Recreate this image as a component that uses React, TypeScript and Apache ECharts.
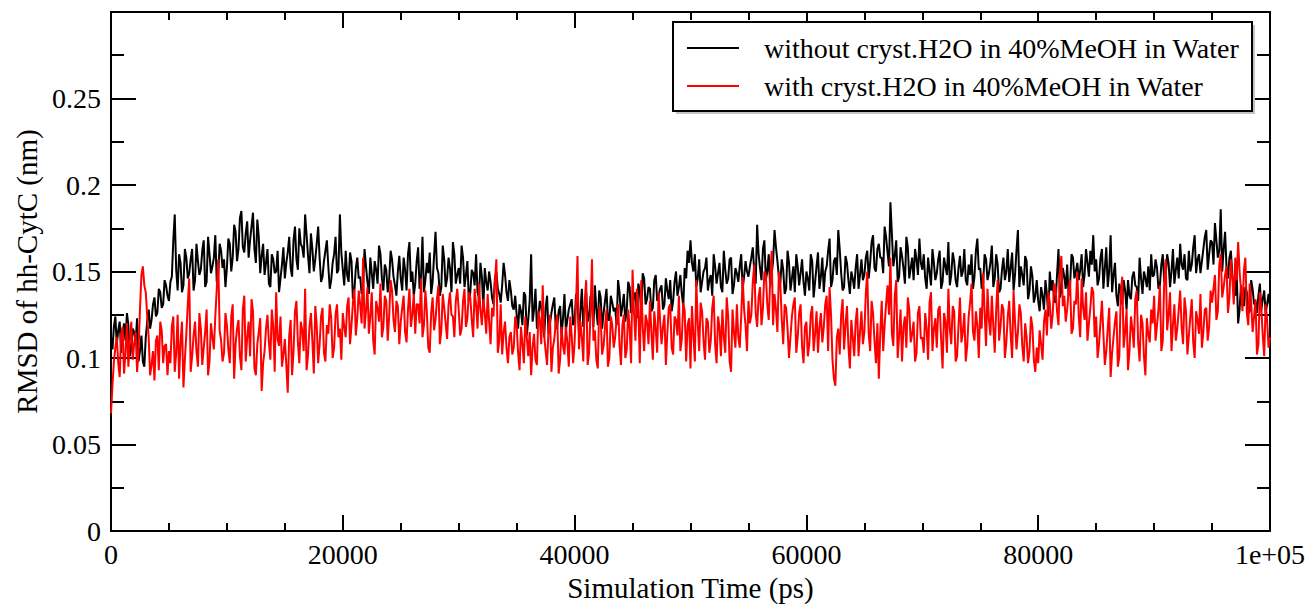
import React, { useEffect, useRef } from "react";
import * as echarts from "echarts";

// Sampling of the read-off values (ps): base samples every 250 ps,
// plus in-between samples at +125 ps
const TIME_STEP_PS = 250;
const HALF_STEP_PS = 125;
const X_MIN = 0;
const X_MAX = 100000;
const Y_MIN = 0;
const Y_MAX = 0.3;

const seriesNames = [
  "without cryst.H2O in 40%MeOH in Water",
  "with cryst.H2O in 40%MeOH in Water",
];

// RMSD values in thousandths of nm, at 0, 250, 500 ... ps
const withoutCrystH2O = [
  112,118,108,121,114,110,119,106,115,123,104,98,112,128,122,135,126,138,131,142,
  133,147,183,139,155,142,158,149,163,145,156,151,168,144,160,153,171,148,162,157,
  152,166,158,173,163,185,161,179,168,184,155,170,159,148,163,141,157,150,138,154,
  146,161,152,168,157,175,164,183,159,172,150,166,158,147,162,153,145,160,149,183,
  151,162,144,156,139,158,147,141,153,137,149,156,143,160,139,151,145,157,142,150,
  146,158,139,167,150,143,164,147,138,155,161,144,173,149,141,157,146,152,167,143,
  152,165,141,156,138,149,160,135,147,152,139,144,131,150,137,142,148,133,139,128,
  125,131,119,136,122,160,128,117,133,121,129,114,126,135,118,130,123,116,128,134,
  121,133,127,118,138,124,131,142,119,135,126,140,122,132,129,145,124,137,128,141,
  130,138,143,126,146,134,140,129,148,136,142,131,139,145,133,150,141,137,152,162,
  168,150,141,157,144,152,139,148,160,143,155,138,151,146,158,142,149,153,140,156,
  147,158,150,177,152,163,145,160,148,174,156,143,151,140,155,146,138,153,149,144,
  150,139,156,144,161,147,138,153,169,145,158,174,149,141,155,137,146,152,140,157,
  148,162,155,171,150,166,158,176,161,190,153,168,147,159,143,164,152,145,157,169,
  151,146,158,142,155,149,162,144,153,167,148,156,141,159,150,145,154,160,147,169,
  152,143,157,149,165,146,154,140,158,150,144,161,148,174,153,142,156,139,147,136,
  133,141,128,137,150,145,132,163,139,147,154,142,158,150,145,160,148,155,162,171,
  157,146,163,152,141,171,148,136,143,131,139,145,134,150,141,158,137,146,153,160,
  148,152,142,160,147,155,150,143,158,166,151,146,162,154,171,157,149,163,174,160,
  167,178,158,186,163,152,158,148,136,120,142,130,138,127,140,133,136,128,139,131,
  130,
];
// values at 125, 375, 625 ... ps
const withoutCrystH2OMid = [
  105,124,116,103,120,126,101,117,109,98,113,95,121,117,131,124,140,129,145,136,
  144,168,151,160,138,163,146,157,139,166,148,162,141,170,149,158,144,166,152,141,
  169,150,177,156,181,164,172,158,176,163,180,149,166,155,143,160,149,162,146,164,
  155,170,147,176,151,166,158,171,149,163,157,176,144,156,168,140,155,170,151,161,
  142,148,161,134,152,146,137,163,144,158,140,151,165,146,154,138,162,147,136,159,
  139,151,160,144,136,156,140,170,145,149,137,159,152,136,165,141,158,138,160,148,
  143,158,148,133,151,142,138,155,129,144,150,135,146,140,132,155,138,145,130,136,
  117,127,138,113,133,121,140,124,129,112,136,120,131,117,127,113,137,122,131,119,
  137,115,140,129,121,136,118,128,139,117,133,122,136,127,119,138,130,121,144,126,
  135,123,139,149,131,141,127,145,133,140,128,146,134,127,144,136,148,130,146,155,
  155,160,146,138,150,158,145,136,153,149,141,162,143,157,137,152,144,160,147,150,
  153,164,143,160,145,168,150,141,156,164,147,157,137,162,139,153,160,142,157,136,
  146,160,135,153,140,158,150,162,141,156,148,163,139,159,145,150,140,160,148,145,
  158,146,167,152,163,158,149,170,153,172,159,144,164,152,170,146,158,163,148,155,
  160,140,150,163,145,157,140,158,148,142,161,145,152,147,163,142,148,140,162,151,
  140,160,145,155,141,160,138,151,145,163,152,139,162,141,148,159,134,153,132,145,
  127,136,145,124,139,133,148,135,152,140,136,160,146,155,151,141,163,147,154,150,
  142,158,140,164,150,138,155,130,138,145,128,136,147,142,133,146,150,141,139,147,
  157,140,154,144,160,141,163,151,146,154,160,145,150,164,149,160,156,170,151,168,
  154,168,162,150,173,146,162,141,150,128,135,141,126,145,131,126,143,134,126,137,
];

const withCrystH2O = [
  68,98,112,89,118,103,95,121,108,92,128,153,138,112,96,87,113,121,97,108,
  104,118,92,125,109,83,114,146,101,121,95,117,106,128,98,112,124,157,110,103,
  119,97,131,108,122,93,136,112,101,127,90,115,81,104,125,99,118,138,107,95,
  111,80,122,104,133,97,116,140,102,126,91,119,108,129,98,114,123,106,131,117,
  126,112,135,119,140,123,131,158,127,114,138,102,129,143,118,133,124,139,115,130,
  121,136,109,140,125,114,131,146,119,127,103,135,122,142,116,129,111,138,124,133,
  128,117,140,123,135,112,131,143,119,126,137,108,124,157,110,102,121,97,115,106,
  119,93,108,124,101,90,114,96,122,142,104,117,92,111,125,99,107,118,95,113,
  109,159,121,98,145,103,157,116,94,123,107,128,100,119,112,131,96,125,105,117,
  151,110,128,145,104,121,133,99,117,138,108,125,114,131,102,122,136,111,127,119,
  94,113,145,104,127,99,121,110,136,97,118,128,103,124,92,115,131,106,147,119,
  133,125,154,118,141,129,148,122,162,137,115,143,108,129,100,124,135,112,131,97,
  121,108,130,114,103,126,118,136,141,99,84,117,125,105,130,94,112,121,101,127,
  115,150,104,126,97,88,133,119,142,158,107,145,113,98,124,135,109,121,103,130,
  112,126,99,138,117,106,130,94,121,140,108,127,101,135,115,98,124,143,110,119,
  129,149,107,122,136,103,145,118,128,109,133,100,121,115,126,98,112,104,118,92,
  97,108,121,113,132,125,141,119,159,136,128,145,117,131,124,146,122,110,129,138,
  124,108,133,96,117,89,112,127,101,147,115,93,124,106,139,98,120,90,114,128,
  136,119,142,110,157,125,104,131,117,139,108,127,113,134,100,122,137,115,129,118,
  132,148,127,160,141,153,135,146,158,167,139,151,126,143,115,134,108,129,101,122,
  112,
];
const withCrystH2OMid = [
  84,106,97,114,91,120,110,99,115,104,148,142,124,90,104,110,93,116,107,90,
  97,124,103,88,121,99,131,92,113,104,126,96,115,90,120,105,140,116,98,126,
  105,124,88,117,101,128,98,121,134,94,108,123,97,117,109,128,92,111,124,102,
  96,113,90,127,109,121,104,93,118,110,130,97,124,103,119,131,100,125,112,99,
  118,130,108,132,113,139,120,117,141,124,110,133,121,112,136,110,145,122,133,108,
  129,115,128,118,137,131,120,112,139,106,126,116,134,108,137,120,131,125,112,140,
  113,133,118,138,122,140,117,128,134,114,121,129,144,103,131,115,106,112,102,124,
  103,118,97,112,115,106,99,127,108,113,96,125,106,120,91,118,102,109,124,97,
  131,105,112,133,96,127,110,99,130,102,118,95,124,106,123,108,119,100,128,97,
  126,140,97,118,125,108,115,127,103,122,118,96,129,106,124,113,104,132,98,123,
  130,98,120,132,110,123,103,129,108,124,101,112,135,98,128,106,112,124,128,104,
  120,144,126,135,119,150,131,145,119,128,150,122,131,117,112,131,103,126,107,118,
  101,125,104,127,118,109,131,104,125,88,112,102,134,119,107,122,101,129,115,108,
  137,114,133,110,120,115,104,131,125,114,136,100,128,118,106,128,114,98,126,111,
  103,117,132,104,123,128,111,126,103,117,130,98,119,109,126,107,132,115,127,100,
  117,127,140,113,119,128,110,131,100,124,113,139,105,131,107,120,97,124,99,106,
  116,99,128,138,117,143,127,150,130,121,139,114,133,150,112,129,138,120,141,112,
  100,121,114,104,129,103,121,95,137,106,128,104,117,134,109,125,101,123,109,120,
  110,128,104,145,116,138,119,110,128,118,135,102,124,109,127,114,106,128,110,139,
  140,122,154,135,148,126,157,131,145,150,127,158,119,132,124,102,138,113,131,106,
];

const FONT = "'Liberation Serif', 'Times New Roman', serif";
const TICK_FONT_SIZE = 28;
const NAME_FONT_SIZE = 29;

function buildPairs(base: number[], mid: number[]) {
  const out: number[][] = [];
  for (let i = 0; i < base.length; i++) {
    out.push([i * TIME_STEP_PS, base[i] / 1000]);
    if (i < mid.length) out.push([i * TIME_STEP_PS + HALF_STEP_PS, mid[i] / 1000]);
  }
  return out;
}

export default function App() {
  const ref = useRef<HTMLDivElement>(null);

  useEffect(() => {
    if (!ref.current) return;
    document.body.style.margin = "0";
    document.documentElement.style.overflow = "hidden";
    document.body.style.overflow = "hidden";
    const chart = echarts.init(ref.current, null, { renderer: "svg", width: 1309, height: 607 });

    const xFormat = (v: number) => (v === 100000 ? "1e+05" : String(v));
    const yFormat = (v: number) =>
      Math.abs(v - 0.3) < 1e-9 ? "" : String(Number(v.toFixed(3)));

    const axisLine = { show: true, onZero: false, lineStyle: { color: "#000", width: 2 } };

    const xCommon = {
      type: "value",
      min: X_MIN,
      max: X_MAX,
      interval: 20000,
      axisLine,
      axisTick: { show: true, inside: true, length: 16, lineStyle: { color: "#000", width: 2 } },
      minorTick: { show: true, splitNumber: 4, length: 8, lineStyle: { color: "#000", width: 2 } },
      splitLine: { show: false },
      minorSplitLine: { show: false },
    };
    const yCommon = {
      type: "value",
      min: Y_MIN,
      max: Y_MAX,
      interval: 0.05,
      axisLine,
      axisTick: { show: true, inside: true, length: 25, lineStyle: { color: "#000", width: 2 } },
      minorTick: { show: true, splitNumber: 2, length: 13, lineStyle: { color: "#000", width: 2 } },
      splitLine: { show: false },
      minorSplitLine: { show: false },
    };

    chart.setOption({
      animation: false,
      backgroundColor: "#fff",
      grid: { left: 111, right: 39, top: 12, bottom: 71, containLabel: false },
      xAxis: [
        {
          ...xCommon,
          position: "bottom",
          name: "Simulation Time (ps)",
          nameLocation: "middle",
          nameGap: 42,
          nameTextStyle: { fontFamily: FONT, fontSize: NAME_FONT_SIZE, color: "#000" },
          axisLabel: {
            show: true,
            formatter: xFormat,
            fontFamily: FONT,
            fontSize: TICK_FONT_SIZE,
            color: "#000",
            margin: 9,
            showMaxLabel: true,
            showMinLabel: true,
          },
        },
        {
          ...xCommon,
          position: "top",
          axisLabel: { show: false },
        },
      ],
      yAxis: [
        {
          ...yCommon,
          position: "left",
          name: "RMSD of hh-CytC (nm)",
          nameLocation: "middle",
          nameGap: 70,
          nameRotate: 90,
          nameTextStyle: { fontFamily: FONT, fontSize: NAME_FONT_SIZE, color: "#000" },
          axisLabel: {
            show: true,
            formatter: yFormat,
            fontFamily: FONT,
            fontSize: TICK_FONT_SIZE,
            color: "#000",
            margin: 10,
          },
        },
        {
          ...yCommon,
          position: "right",
          axisLabel: { show: false },
        },
      ],
      legend: {
        show: true,
        orient: "vertical",
        left: 687,
        top: 34,
        padding: 0,
        itemWidth: 52,
        itemHeight: 28,
        itemGap: 10,
        icon: "path://M0,0 L52,0 L52,2 L0,2 Z",
        textStyle: {
          fontFamily: FONT,
          fontSize: TICK_FONT_SIZE,
          lineHeight: 28,
          color: "#000",
          padding: [0, 0, 0, 20],
        },
        data: seriesNames,
      },
      graphic: [
        {
          type: "rect",
          z: 1,
          shape: { x: 676, y: 25, width: 579, height: 89 },
          style: { fill: "#c4c4c4" },
        },
        {
          type: "rect",
          z: 2,
          shape: { x: 673, y: 22, width: 579, height: 89 },
          style: { fill: "#fff", stroke: "#000", lineWidth: 2 },
        },
      ],
      series: [
        {
          name: seriesNames[0],
          type: "line",
          data: buildPairs(withoutCrystH2O, withoutCrystH2OMid),
          symbol: "none",
          showSymbol: false,
          color: "#000",
          lineStyle: { color: "#000", width: 2 },
          xAxisIndex: 0,
          yAxisIndex: 0,
          z: 3,
        },
        {
          name: seriesNames[1],
          type: "line",
          data: buildPairs(withCrystH2O, withCrystH2OMid),
          symbol: "none",
          showSymbol: false,
          color: "#ff0000",
          lineStyle: { color: "#ff0000", width: 2 },
          xAxisIndex: 0,
          yAxisIndex: 0,
          z: 4,
        },
      ],
    });

    return () => chart.dispose();
  }, []);

  return (
    <div
      ref={ref}
      style={{ position: "fixed", left: 0, top: 0, width: 1309, height: 607 }}
    />
  );
}
